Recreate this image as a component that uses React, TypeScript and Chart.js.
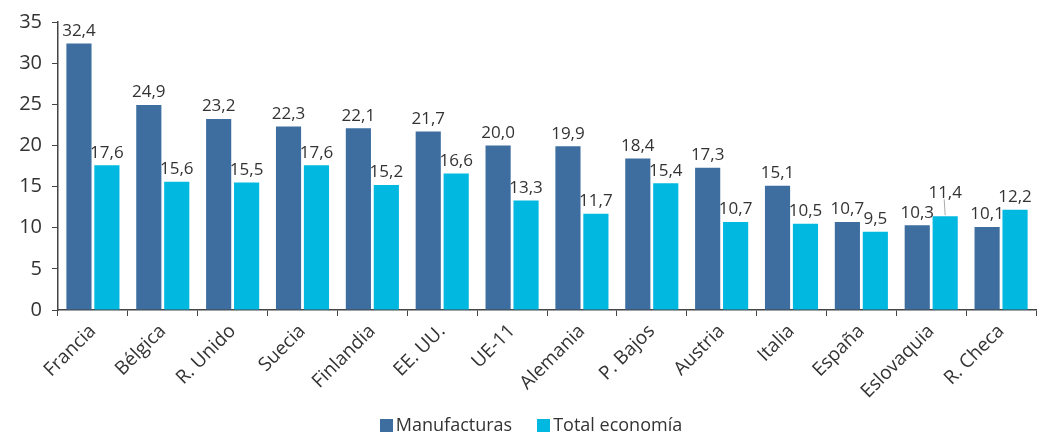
import React, { useEffect, useRef } from "react";
import { Chart, registerables } from "chart.js";

Chart.register(...registerables);

const categories = ["Francia", "Bélgica", "R. Unido", "Suecia", "Finlandia", "EE. UU.", "UE-11", "Alemania", "P. Bajos", "Austria", "Italia", "España", "Eslovaquia", "R. Checa"];
const manufacturas = [32.4, 24.9, 23.2, 22.3, 22.1, 21.7, 20.0, 19.9, 18.4, 17.3, 15.1, 10.7, 10.3, 10.1];
const totalEconomia = [17.6, 15.6, 15.5, 17.6, 15.2, 16.6, 13.3, 11.7, 15.4, 10.7, 10.5, 9.5, 11.4, 12.2];
const seriesNames = ["Manufacturas", "Total economía"];
const seriesColors = ["#3d6e9f", "#00b8e0"];

const FONT = "'Open Sans', 'DejaVu Sans', sans-serif";
const TEXT = "#333333";

const valueLabels = {
  id: "valueLabels",
  afterDatasetsDraw(chart: any) {
    const ctx = chart.ctx;
    ctx.save();
    ctx.font = `17px ${FONT}`;
    ctx.fillStyle = TEXT;
    ctx.textAlign = "center";
    ctx.textBaseline = "bottom";
    chart.data.datasets.forEach((ds: any, di: number) => {
      const meta = chart.getDatasetMeta(di);
      meta.data.forEach((bar: any, i: number) => {
        const v = ds.data[i];
        const txt = v.toFixed(1).replace(".", ",");
        let y = bar.y - 4;
        // raise label when it would collide with neighbouring label
        if (di === 1) {
          const other = chart.getDatasetMeta(0).data[i];
          if (Math.abs(other.y - bar.y) < 12 && bar.y < other.y) {
            const ny = other.y - 24;
            ctx.strokeStyle = "#aaa";
            ctx.lineWidth = 1;
            ctx.beginPath();
            ctx.moveTo(bar.x, bar.y - 1);
            ctx.lineTo(bar.x - 1, ny - 2);
            ctx.stroke();
            y = ny;
          }
        }
        ctx.fillText(txt, bar.x, y);
      });
    });
    ctx.restore();
  },
};

export default function App() {
  const ref = useRef<HTMLCanvasElement>(null);
  useEffect(() => {
    document.body.style.margin = "0";
    const chart = new Chart(ref.current!, {
      type: "bar",
      data: {
        labels: categories,
        datasets: [
          { label: seriesNames[0], data: manufacturas, backgroundColor: seriesColors[0], borderWidth: 0 },
          { label: seriesNames[1], data: totalEconomia, backgroundColor: seriesColors[1], borderWidth: 0 },
        ],
      },
      options: {
        animation: false,
        responsive: false,
        maintainAspectRatio: false,
        layout: { padding: { left: 0, right: 4, top: 0, bottom: 31 } },
        plugins: {
          legend: { display: false },
          tooltip: { enabled: false },
        },
        scales: {
          x: {
            grid: { display: true, drawOnChartArea: false, offset: true, tickLength: 6, color: "#444", tickColor: "#444" },
            border: { display: true, color: "#444", width: 1.5 },
            categoryPercentage: 0.79,
            barPercentage: 1.0,
            ticks: {
              color: TEXT,
              font: { family: FONT, size: 19 },
              minRotation: 45,
              maxRotation: 45,
              autoSkip: false,
              padding: 4,
            },
          },
          y: {
            min: 0,
            max: 35,
            grid: { display: true, drawOnChartArea: false, tickLength: 6, color: "#444", tickColor: "#444" },
            border: { display: true, color: "#444", width: 1.5 },
            ticks: {
              stepSize: 5,
              color: TEXT,
              font: { family: FONT, size: 20 },
              padding: 10,
            },
            afterFit(scale: any) {
              scale.width = 58;
            },
          },
        },
      },
      plugins: [valueLabels],
    } as any);
    return () => chart.destroy();
  }, []);
  return (
    <div style={{ width: 1040, height: 438, position: "relative" }}>
      <canvas ref={ref} width={1040} height={438} style={{ display: "block" }} />
      <div
        style={{
          position: "absolute",
          left: 11,
          width: 1040,
          top: 411,
          display: "flex",
          justifyContent: "center",
          alignItems: "center",
          gap: 25,
          fontFamily: FONT,
          fontSize: 18,
          color: TEXT,
          lineHeight: "26px",
        }}
      >
        {seriesNames.map((n, i) => (
          <div key={n} style={{ display: "flex", alignItems: "center", gap: 3 }}>
            <span style={{ display: "inline-block", width: 13, height: 13, background: seriesColors[i], marginTop: 3 }} />
            <span>{n}</span>
          </div>
        ))}
      </div>
    </div>
  );
}
